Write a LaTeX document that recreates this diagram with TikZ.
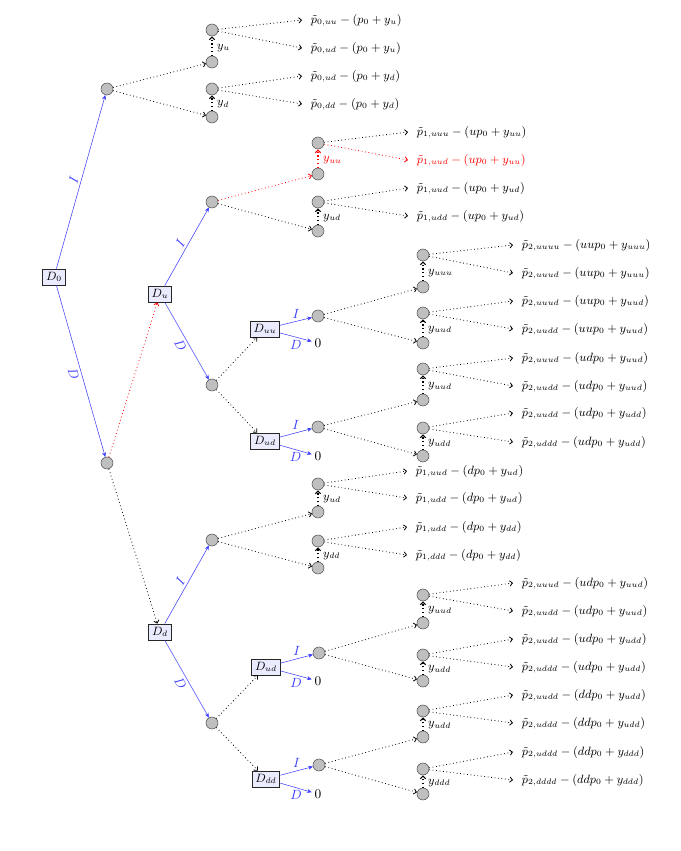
\documentclass[tikz,border=0pt]{standalone}
\usetikzlibrary{arrows.meta}
\definecolor{myblue}{RGB}{60,60,255}
\begin{document}
\begin{tikzpicture}[x=0.75pt,y=-0.75pt,
  every node/.append style={font=\fontsize{9}{11}\selectfont},
  circ/.style={circle,draw=black!70,fill=black!25,minimum size=9pt,inner sep=0pt},
  box/.style={draw=black!85,semithick,fill=blue!8,inner xsep=2.5pt,inner ysep=2pt,minimum height=12pt},
  bl/.style={myblue,-{Stealth[length=3.5pt,width=3pt]}},
  da/.style={dotted,semithick,-{Straight Barb[length=2pt,width=4pt]}},
  va/.style={dotted,thick,-{Straight Barb[length=2pt,width=4pt]}},
  txt/.style={anchor=west,inner xsep=6.5pt,inner ysep=1pt},
  ylab/.style={pos=0.4,right=2.5pt,inner sep=1pt},
  lab/.style={inner sep=2pt,font=\fontsize{10}{12}\selectfont},
  zero/.style={inner sep=2pt,font=\fontsize{10}{12}\selectfont}]
\useasboundingbox (0,0) rectangle (681,851);

% ---------- root ----------
\node[box] (D0) at (54,277) {$D_0$};
\node[circ] (A) at (107,89) {};
\node[circ] (B) at (107,463) {};
\draw[bl] (D0) -- node[lab,sloped,above,myblue]{$I$} (A);
\draw[bl] (D0) -- node[lab,sloped,below,myblue]{$D$} (B);

% ---------- group from A ----------
\node[circ] (a1u) at (212,30) {};
\node[circ] (a1) at (212,62) {};
\node[circ] (a2u) at (212,89) {};
\node[circ] (a2) at (212,117) {};
\draw[da] (A) -- (a1);
\draw[da] (A) -- (a2);
\draw[va] (a1) -- node[ylab]{$y_u$} (a1u);
\draw[va] (a2) -- node[ylab]{$y_d$} (a2u);
\node[txt] (t01) at (302,20) {$\tilde p_{0,uu}-(p_0+y_u)$};
\node[txt] (t02) at (302,48) {$\tilde p_{0,ud}-(p_0+y_u)$};
\node[txt] (t03) at (302,76) {$\tilde p_{0,ud}-(p_0+y_d)$};
\node[txt] (t04) at (302,104) {$\tilde p_{0,dd}-(p_0+y_d)$};
\draw[da] (a1u) -- (t01.west);
\draw[da] (a1u) -- (t02.west);
\draw[da] (a2u) -- (t03.west);
\draw[da] (a2u) -- (t04.west);

% ---------- Du ----------
\node[box] (Du) at (160,294) {$D_u$};
\node[box] (Dd) at (160,632) {$D_d$};
\draw[dotted,semithick,red,-{Straight Barb[length=2pt,width=4pt]}] (B) -- (Du);
\draw[da] (B) -- (Dd);
\node[circ] (C) at (212,202) {};
\node[circ] (E) at (212,385) {};
\draw[bl] (Du) -- node[lab,sloped,above,myblue]{$I$} (C);
\draw[bl] (Du) -- node[lab,sloped,below,myblue]{$D$} (E);

% group from C
\node[circ] (c1u) at (318,143) {};
\node[circ] (c1) at (318,174) {};
\node[circ] (c2u) at (318,202) {};
\node[circ] (c2) at (318,231) {};
\draw[da,red] (C) -- (c1);
\draw[da] (C) -- (c2);
\draw[va,red] (c1) -- node[ylab,red]{$y_{uu}$} (c1u);
\draw[va] (c2) -- node[ylab]{$y_{ud}$} (c2u);
\node[txt] (t11) at (408,132) {$\tilde p_{1,uuu}-(up_0+y_{uu})$};
\node[txt,red] (t12) at (408,160) {$\tilde p_{1,uud}-(up_0+y_{uu})$};
\node[txt] (t13) at (408,188) {$\tilde p_{1,uud}-(up_0+y_{ud})$};
\node[txt] (t14) at (408,216) {$\tilde p_{1,udd}-(up_0+y_{ud})$};
\draw[da] (c1u) -- (t11.west);
\draw[da,red] (c1u) -- (t12.west);
\draw[da] (c2u) -- (t13.west);
\draw[da] (c2u) -- (t14.west);

% Duu, Dud
\node[box] (Duu) at (265,329) {$D_{uu}$};
\node[box] (Dud) at (265,441) {$D_{ud}$};
\draw[da] (E) -- (Duu);
\draw[da] (E) -- (Dud);
\node[circ] (F) at (318,316) {};
\node[zero] (z1) at (318,343) {$0$};
\node[circ] (G) at (318,427) {};
\node[zero] (z2) at (318,456) {$0$};
\draw[bl] (Duu) -- node[lab,above,myblue]{$I$} (F);
\draw[bl] (Duu) -- node[lab,below,myblue]{$D$} (z1);
\draw[bl] (Dud) -- node[lab,above,myblue]{$I$} (G);
\draw[bl] (Dud) -- node[lab,below,myblue]{$D$} (z2);

% group from F
\node[circ] (f1u) at (423,255) {};
\node[circ] (f1) at (423,287) {};
\node[circ] (f2u) at (423,313) {};
\node[circ] (f2) at (423,343) {};
\draw[da] (F) -- (f1);
\draw[da] (F) -- (f2);
\draw[va] (f1) -- node[ylab]{$y_{uuu}$} (f1u);
\draw[va] (f2) -- node[ylab]{$y_{uud}$} (f2u);
\node[txt] (t21) at (513,245) {$\tilde p_{2,uuuu}-(uup_0+y_{uuu})$};
\node[txt] (t22) at (513,273) {$\tilde p_{2,uuud}-(uup_0+y_{uuu})$};
\node[txt] (t23) at (513,301) {$\tilde p_{2,uuud}-(uup_0+y_{uud})$};
\node[txt] (t24) at (513,329) {$\tilde p_{2,uudd}-(uup_0+y_{uud})$};
\draw[da] (f1u) -- (t21.west);
\draw[da] (f1u) -- (t22.west);
\draw[da] (f2u) -- (t23.west);
\draw[da] (f2u) -- (t24.west);

% group from G
\node[circ] (g1u) at (423,369) {};
\node[circ] (g1) at (423,400) {};
\node[circ] (g2u) at (423,428) {};
\node[circ] (g2) at (423,456) {};
\draw[da] (G) -- (g1);
\draw[da] (G) -- (g2);
\draw[va] (g1) -- node[ylab]{$y_{uud}$} (g1u);
\draw[va] (g2) -- node[ylab]{$y_{udd}$} (g2u);
\node[txt] (t25) at (513,358) {$\tilde p_{2,uuud}-(udp_0+y_{uud})$};
\node[txt] (t26) at (513,386) {$\tilde p_{2,uudd}-(udp_0+y_{uud})$};
\node[txt] (t27) at (513,413) {$\tilde p_{2,uudd}-(udp_0+y_{udd})$};
\node[txt] (t28) at (513,442) {$\tilde p_{2,uddd}-(udp_0+y_{udd})$};
\draw[da] (g1u) -- (t25.west);
\draw[da] (g1u) -- (t26.west);
\draw[da] (g2u) -- (t27.west);
\draw[da] (g2u) -- (t28.west);

% ---------- Dd ----------
\node[circ] (H) at (212,540) {};
\node[circ] (K) at (212,723) {};
\draw[bl] (Dd) -- node[lab,sloped,above,myblue]{$I$} (H);
\draw[bl] (Dd) -- node[lab,sloped,below,myblue]{$D$} (K);

% group from H
\node[circ] (h1u) at (318,484) {};
\node[circ] (h1) at (318,512) {};
\node[circ] (h2u) at (318,541) {};
\node[circ] (h2) at (318,568) {};
\draw[da] (H) -- (h1);
\draw[da] (H) -- (h2);
\draw[va] (h1) -- node[ylab]{$y_{ud}$} (h1u);
\draw[va] (h2) -- node[ylab]{$y_{dd}$} (h2u);
\node[txt] (t31) at (407,471) {$\tilde p_{1,uud}-(dp_0+y_{ud})$};
\node[txt] (t32) at (407,498) {$\tilde p_{1,udd}-(dp_0+y_{ud})$};
\node[txt] (t33) at (407,527) {$\tilde p_{1,udd}-(dp_0+y_{dd})$};
\node[txt] (t34) at (407,555) {$\tilde p_{1,ddd}-(dp_0+y_{dd})$};
\draw[da] (h1u) -- (t31.west);
\draw[da] (h1u) -- (t32.west);
\draw[da] (h2u) -- (t33.west);
\draw[da] (h2u) -- (t34.west);

% Dud (lower), Ddd
\node[box] (Dud2) at (266,667) {$D_{ud}$};
\node[box] (Ddd) at (266,779) {$D_{dd}$};
\draw[da] (K) -- (Dud2);
\draw[da] (K) -- (Ddd);
\node[circ] (L) at (319,653) {};
\node[zero] (z3) at (318,681) {$0$};
\node[circ] (M) at (319,765) {};
\node[zero] (z4) at (318,794) {$0$};
\draw[bl] (Dud2) -- node[lab,above,myblue]{$I$} (L);
\draw[bl] (Dud2) -- node[lab,below,myblue]{$D$} (z3);
\draw[bl] (Ddd) -- node[lab,above,myblue]{$I$} (M);
\draw[bl] (Ddd) -- node[lab,below,myblue]{$D$} (z4);

% group from L
\node[circ] (l1u) at (423,595) {};
\node[circ] (l1) at (423,623) {};
\node[circ] (l2u) at (423,655) {};
\node[circ] (l2) at (423,681) {};
\draw[da] (L) -- (l1);
\draw[da] (L) -- (l2);
\draw[va] (l1) -- node[ylab]{$y_{uud}$} (l1u);
\draw[va] (l2) -- node[ylab]{$y_{udd}$} (l2u);
\node[txt] (t41) at (513,583) {$\tilde p_{2,uuud}-(udp_0+y_{uud})$};
\node[txt] (t42) at (513,611) {$\tilde p_{2,uudd}-(udp_0+y_{uud})$};
\node[txt] (t43) at (513,639) {$\tilde p_{2,uudd}-(udp_0+y_{udd})$};
\node[txt] (t44) at (513,667) {$\tilde p_{2,uddd}-(udp_0+y_{udd})$};
\draw[da] (l1u) -- (t41.west);
\draw[da] (l1u) -- (t42.west);
\draw[da] (l2u) -- (t43.west);
\draw[da] (l2u) -- (t44.west);

% group from M
\node[circ] (m1u) at (423,711) {};
\node[circ] (m1) at (423,737) {};
\node[circ] (m2u) at (423,769) {};
\node[circ] (m2) at (423,794) {};
\draw[da] (M) -- (m1);
\draw[da] (M) -- (m2);
\draw[va] (m1) -- node[ylab]{$y_{udd}$} (m1u);
\draw[va] (m2) -- node[ylab]{$y_{ddd}$} (m2u);
\node[txt] (t45) at (513,695) {$\tilde p_{2,uudd}-(ddp_0+y_{udd})$};
\node[txt] (t46) at (513,723) {$\tilde p_{2,uddd}-(ddp_0+y_{udd})$};
\node[txt] (t47) at (513,752) {$\tilde p_{2,uddd}-(ddp_0+y_{ddd})$};
\node[txt] (t48) at (513,780) {$\tilde p_{2,dddd}-(ddp_0+y_{ddd})$};
\draw[da] (m1u) -- (t45.west);
\draw[da] (m1u) -- (t46.west);
\draw[da] (m2u) -- (t47.west);
\draw[da] (m2u) -- (t48.west);
\end{tikzpicture}
\end{document}
